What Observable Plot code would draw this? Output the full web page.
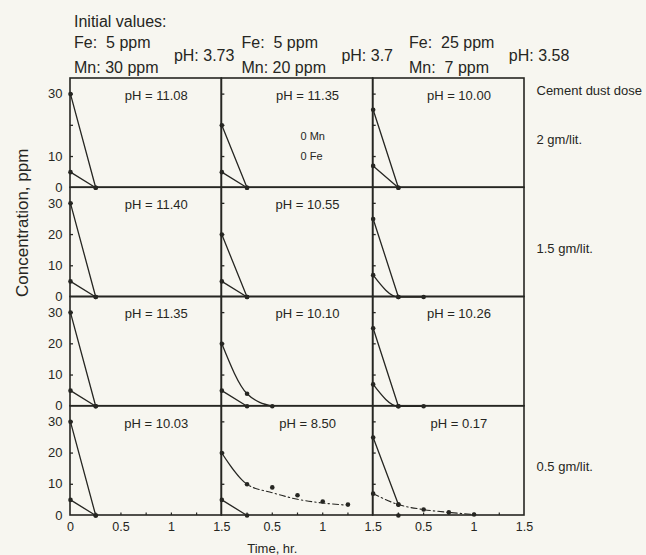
<!DOCTYPE html>
<html><head><meta charset="utf-8">
<script src="https://cdn.jsdelivr.net/npm/d3@7"></script>
<script src="https://cdn.jsdelivr.net/npm/@observablehq/plot@0.6"></script>
<style>
html,body{margin:0;padding:0;background:#f7f6f0;}
</style></head><body><div id="chart"></div>
<script>
// ---- data ----
const doses = ["2 gm/lit.", "1.5 gm/lit.", "", "0.5 gm/lit."];
const feInitial = [5, 5, 25];
const mnInitial = [30, 20, 7];
const phInitial = ["3.73", "3.7", "3.58"];
const phFinal = [
  ["11.08", "11.35", "10.00"],
  ["11.40", "10.55", ""],
  ["11.35", "10.10", "10.26"],
  ["10.03", "8.50", "0.17"]
];
const xTickLabels = ["0", "0.5", "1", "1.5", "0.5", "1", "1.5", "0.5", "1", "1.5"];
const yTickLabels = [[0, 10, 30], [0, 10, 20, 30], [0, 10, 20, 30], [0, 10, 20, 30]];

// line: "solid" | "dashdot" | "fit" | "none"; dots: draw measured points
const series = [
  // 2 gm/lit.
  {row: 0, col: 0, ion: "Mn", line: "solid", dots: true, t: [0, 0.25], c: [30, 0]},
  {row: 0, col: 0, ion: "Fe", line: "solid", dots: true, t: [0, 0.25], c: [5, 0]},
  {row: 0, col: 1, ion: "Mn", line: "solid", dots: true, t: [0, 0.25], c: [20, 0]},
  {row: 0, col: 1, ion: "Fe", line: "solid", dots: true, t: [0, 0.25], c: [5, 0]},
  {row: 0, col: 2, ion: "Fe", line: "solid", dots: true, t: [0, 0.25], c: [25, 0]},
  {row: 0, col: 2, ion: "Mn", line: "solid", dots: true, t: [0, 0.25], c: [7, 0]},
  // 1.5 gm/lit.
  {row: 1, col: 0, ion: "Mn", line: "solid", dots: true, t: [0, 0.25], c: [30, 0]},
  {row: 1, col: 0, ion: "Fe", line: "solid", dots: true, t: [0, 0.25], c: [5, 0]},
  {row: 1, col: 1, ion: "Mn", line: "solid", dots: true, t: [0, 0.25], c: [20, 0]},
  {row: 1, col: 1, ion: "Fe", line: "solid", dots: true, t: [0, 0.25], c: [5, 0]},
  {row: 1, col: 2, ion: "Fe", line: "solid", dots: true, t: [0, 0.25], c: [25, 0]},
  {row: 1, col: 2, ion: "Mn", line: "solid", dots: true, t: [0, 0.25, 0.5], c: [7, 0, 0]},
  // 1 gm/lit. (unlabelled)
  {row: 2, col: 0, ion: "Mn", line: "solid", dots: true, t: [0, 0.25], c: [30, 0]},
  {row: 2, col: 0, ion: "Fe", line: "solid", dots: true, t: [0, 0.25], c: [5, 0]},
  {row: 2, col: 1, ion: "Mn", line: "solid", dots: true, t: [0, 0.25, 0.5], c: [20, 4, 0]},
  {row: 2, col: 1, ion: "Fe", line: "solid", dots: true, t: [0, 0.25], c: [5, 0]},
  {row: 2, col: 2, ion: "Fe", line: "solid", dots: true, t: [0, 0.25], c: [25, 0]},
  {row: 2, col: 2, ion: "Mn", line: "solid", dots: true, t: [0, 0.25, 0.5], c: [7, 0, 0]},
  // 0.5 gm/lit.
  {row: 3, col: 0, ion: "Mn", line: "solid", dots: true, t: [0, 0.25], c: [30, 0]},
  {row: 3, col: 0, ion: "Fe", line: "solid", dots: true, t: [0, 0.25], c: [5, 0]},
  {row: 3, col: 1, ion: "Mn", line: "none", dots: true, t: [0, 0.25, 0.5, 0.75, 1, 1.25], c: [20, 10, 9, 6.5, 4.5, 3.5]},
  {row: 3, col: 1, ion: "Mn", line: "fit", dots: false, t: [0, 0.25, 0.5, 0.75, 1, 1.25], c: [20, 10, 7.3, 5.2, 4, 3.3]},
  {row: 3, col: 1, ion: "Fe", line: "solid", dots: true, t: [0, 0.25], c: [5, 0]},
  {row: 3, col: 2, ion: "Fe", line: "solid", dots: true, t: [0, 0.25], c: [25, 3.5]},
  {row: 3, col: 2, ion: "Mn", line: "dashdot", dots: true, t: [0, 0.25, 0.5, 0.75, 1], c: [7, 3.5, 1.9, 1, 0.3]},
  {row: 3, col: 2, ion: "Fe", line: "none", dots: true, t: [0.25], c: [0]}
];

// ---- layout of the panel grid ----
const SPAN_T = 1.5, SPAN_C = 35, NROW = 4, NCOL = 3;
const gx = (col, t) => col * SPAN_T + t;
const gy = (row, c) => (NROW - 1 - row) * SPAN_C + c;
const ink = "#262622";

const pts = [];
series.forEach((s, k) => s.t.forEach((t, i) => pts.push({
  key: k, line: s.line, dots: s.dots, x: gx(s.col, t), y: gy(s.row, s.c[i])
})));

const panels = [];
for (let r = 0; r < NROW; r++) for (let c = 0; c < NCOL; c++) panels.push({row: r, col: c});

const xTicks = xTickLabels.map((l, i) => ({pos: i * 0.5, label: l}));
const yTicks = [];
yTickLabels.forEach((vals, r) => vals.forEach(v => yTicks.push({pos: gy(r, v), label: String(v)})));
const xMap = new Map(xTicks.map(d => [d.pos, d.label]));
const yMap = new Map(yTicks.map(d => [d.pos, d.label]));

const innerTicks = [];
panels.forEach(p => [10, 20, 30].forEach(v => innerTicks.push({col: p.col, y: gy(p.row, v)})));
const bottomTicks = d3.range(1, 18).map(i => i * 0.25).filter(v => v % 1.5 !== 0);

const cols = d3.range(NCOL).map(c => ({col: c, fe: feInitial[c], mn: mnInitial[c], ph: phInitial[c]}));
const headerShift = c => 0.035 + c * 0.16;

const phLabels = [];
phFinal.forEach((rowVals, r) => rowVals.forEach((v, c) => { if (v) phLabels.push({row: r, col: c, text: "pH = " + v}); }));
const doseLabels = doses.map((d, r) => ({row: r, text: d})).filter(d => d.text);

const fitDash = "40," + Array(16).fill("3,1.5,3,6").join(",");
const hdr = {frameAnchor: "top", lineAnchor: "middle", textAnchor: "start", fontSize: 16, fill: ink};

const chart = Plot.plot({
  width: 646, height: 555,
  marginTop: 78, marginLeft: 70, marginRight: 122, marginBottom: 40,
  style: {fontFamily: "'Liberation Sans', Arial, Helvetica, sans-serif", background: "transparent", color: ink},
  x: {domain: [0, NCOL * SPAN_T]},
  y: {domain: [0, NROW * SPAN_C]},
  marks: [
    Plot.axisX(xTicks.map(d => d.pos), {tickSize: 0, tickPadding: 7, tickFormat: d => xMap.get(d), fontSize: 12.5, label: null, fill: ink}),
    Plot.axisY(yTicks.map(d => d.pos), {tickSize: 0, tickPadding: 8, tickFormat: d => yMap.get(d), fontSize: 13, label: null, fill: ink}),
    Plot.rect(panels, {x1: d => gx(d.col, 0), x2: d => gx(d.col, SPAN_T), y1: d => gy(d.row, 0), y2: d => gy(d.row, SPAN_C), fill: "none", stroke: ink, strokeWidth: 1.6}),
    Plot.ruleY(innerTicks, {x1: d => gx(d.col, 0), x2: d => gx(d.col, 0.03), y: "y", stroke: ink, strokeWidth: 1.3}),
    Plot.ruleX(bottomTicks, {x: d => d, y1: 0, y2: 0.8, stroke: ink, strokeWidth: 1.2}),
    Plot.line(pts.filter(d => d.line === "solid"), {x: "x", y: "y", z: "key", curve: "monotone-x", stroke: ink, strokeWidth: 1.3}),
    Plot.line(pts.filter(d => d.line === "dashdot"), {x: "x", y: "y", z: "key", curve: "monotone-x", stroke: ink, strokeWidth: 1.1, strokeDasharray: "6,3,1.5,3"}),
    Plot.line(pts.filter(d => d.line === "fit"), {x: "x", y: "y", z: "key", curve: "monotone-x", stroke: ink, strokeWidth: 1.1, strokeDasharray: fitDash}),
    Plot.dot(pts.filter(d => d.dots), {x: "x", y: "y", r: 2.3, fill: ink, stroke: "none"}),
    Plot.text(phLabels, {x: d => gx(d.col, 0.85), y: d => gy(d.row, 29.5), text: "text", fontSize: 13, fill: ink}),
    Plot.text(["0 Mn", "0 Fe"], {x: gx(1, 0.78), y: (d, i) => gy(0, [16.3, 10][i]), text: d => d, textAnchor: "start", fontSize: 11, fill: ink}),
    Plot.text(["Initial values:"], {...hdr, x: gx(0, headerShift(0)), dy: -57}),
    Plot.text(cols, {...hdr, x: d => gx(d.col, headerShift(d.col)), dy: -36, text: d => "Fe:\u00a0 " + d.fe + " ppm"}),
    Plot.text(cols, {...hdr, x: d => gx(d.col, headerShift(d.col)), dy: -11, text: d => "Mn:" + (d.mn < 10 ? "\u00a0 " : " ") + d.mn + " ppm"}),
    Plot.text(cols, {...hdr, x: d => gx(d.col, headerShift(d.col) + 0.99), dy: -23, text: d => "pH: " + d.ph}),
    Plot.text(["Cement dust dose"], {x: gx(NCOL - 1, SPAN_T), y: gy(0, 31), dx: 12, textAnchor: "start", fontSize: 13, fill: ink}),
    Plot.text(doseLabels, {x: gx(NCOL - 1, SPAN_T), y: d => gy(d.row, 15.5), dx: 12, text: "text", textAnchor: "start", fontSize: 13, fill: ink}),
    Plot.text(["Concentration, ppm"], {frameAnchor: "left", dx: -48, rotate: -90, fontSize: 17, fill: ink}),
    Plot.text(["Time, hr."], {x: gx(1, 0.5), frameAnchor: "bottom", lineAnchor: "middle", dy: 33, fontSize: 13, fill: ink})
  ]
});
document.getElementById("chart").appendChild(chart);
</script></body></html>
